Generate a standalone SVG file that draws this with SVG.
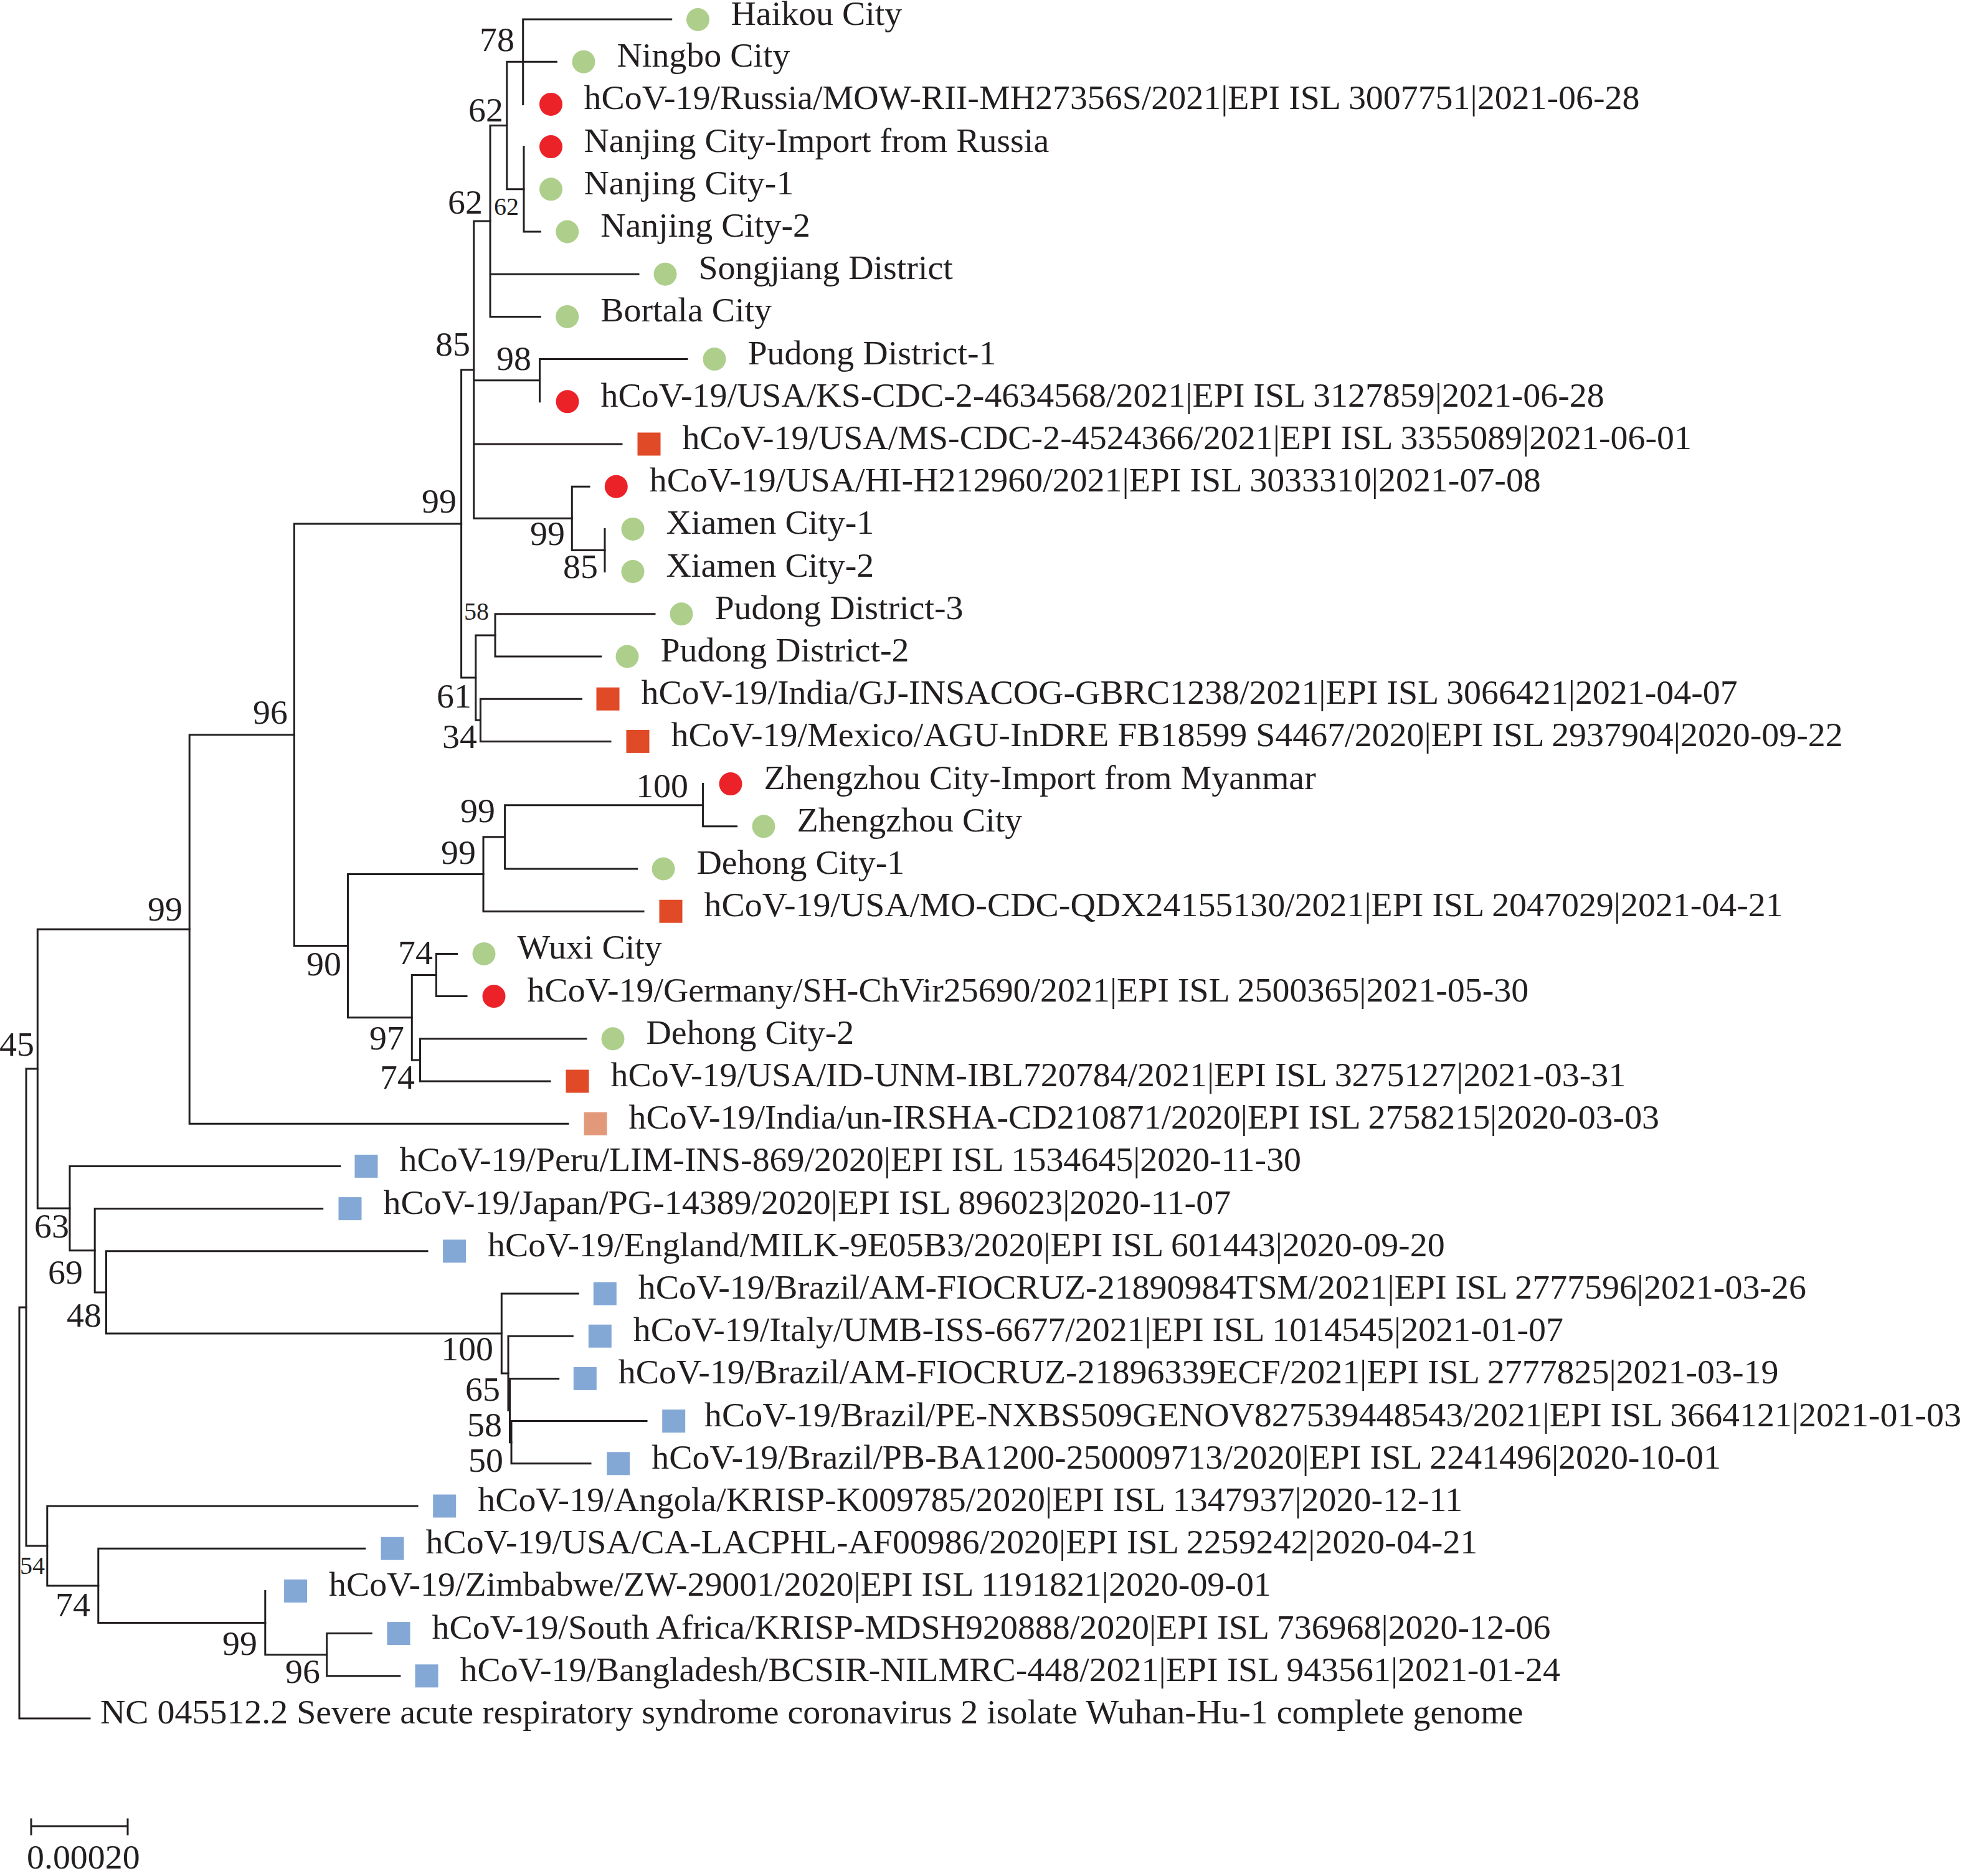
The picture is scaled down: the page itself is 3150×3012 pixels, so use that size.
<svg xmlns="http://www.w3.org/2000/svg" width="3150" height="3012" viewBox="0 0 3150 3012">
<style>
.e{fill:none;stroke:#231f20;stroke-width:3;stroke-linecap:square}
.t{font-family:"Liberation Serif","Times New Roman",serif;font-size:55.9px;fill:#231f20}
.b{font-family:"Liberation Serif","Times New Roman",serif;font-size:55.9px;fill:#231f20;text-anchor:end}
.s{font-size:40px}
.g{fill:#aecf8c}.r{fill:#ec2229}.o{fill:#e04a26}.p{fill:#e2997a}.u{fill:#84a8d6}
</style>
<rect width="3150" height="3012" fill="#ffffff"/>
<g id="connectors" class="e">
<path d="M31 2099V2759M31 2099H42M31 2759H144"/>
<path d="M42 1716V2482M42 1716H60.3M42 2482H75.8"/>
<path d="M60.3 1492V1940.1M60.3 1492H304.2M60.3 1940.1H112"/>
<path d="M304.2 1179.75V1804.2M304.2 1179.75H472.4M304.2 1804.2H912"/>
<path d="M472.4 840.9V1518.6M472.4 840.9H740.6M472.4 1518.6H558.5"/>
<path d="M740.6 593.65V1088.1M740.6 593.65H760.7M740.6 1088.1H763.8"/>
<path d="M760.7 354.95V832.35M760.7 354.95H787M760.7 610.7H866.5M760.7 713H998M760.7 832.35H918.3"/>
<path d="M787 201.5V508.4M787 201.5H813.8M787 440.2H1025M787 508.4H867.4"/>
<path d="M813.8 99.2V303.8M813.8 99.2H839.7M813.8 303.8H841"/>
<path d="M839.7 31V167.4M839.7 31H1077.7M839.7 99.2H893.3"/>
<path d="M841 235.6V372M841 372H867.4"/>
<path d="M866.5 576.6V644.8M866.5 576.6H1103"/>
<path d="M918.3 781.2V883.5M918.3 781.2H946M918.3 883.5H971"/>
<path d="M971 849.4V917.6"/>
<path d="M763.8 1019.9V1156.3M763.8 1019.9H795M763.8 1156.3H771.4"/>
<path d="M795 985.8V1054M795 985.8H1051M795 1054H964.7"/>
<path d="M771.4 1122.2V1190.4M771.4 1122.2H933.5M771.4 1190.4H980"/>
<path d="M558.5 1403.5V1633.7M558.5 1403.5H776M558.5 1633.7H661.3"/>
<path d="M776 1343.85V1463.2M776 1343.85H810.6M776 1463.2H1033"/>
<path d="M810.6 1292.7V1395M810.6 1292.7H1128.6M810.6 1395H1022.8"/>
<path d="M1128.6 1258.6V1326.8M1128.6 1326.8H1182.6"/>
<path d="M661.3 1565.5V1701.9M661.3 1565.5H700.4M661.3 1701.9H674.5"/>
<path d="M700.4 1531.4V1599.6M700.4 1531.4H733.5M700.4 1599.6H749"/>
<path d="M674.5 1667.8V1736M674.5 1667.8H941M674.5 1736H883"/>
<path d="M112 1872.4V2007.75M112 1872.4H545.8M112 2007.75H152.2"/>
<path d="M152.2 1940.6V2074.9M152.2 1940.6H517.7M152.2 2074.9H170.5"/>
<path d="M170.5 2008.8V2140.95M170.5 2008.8H686M170.5 2140.95H805.3"/>
<path d="M805.3 2077V2204.9M805.3 2077H928.3M805.3 2204.9H816"/>
<path d="M816 2145.2V2264.55M816 2145.2H919.3M816 2264.55H818.5"/>
<path d="M818.5 2213.4V2315.7M818.5 2213.4H896.7M818.5 2315.7H821"/>
<path d="M821 2281.6V2349.8M821 2281.6H1038M821 2349.8H948"/>
<path d="M75.8 2418V2545.9M75.8 2418H670M75.8 2545.9H157.8"/>
<path d="M157.8 2486.2V2605.55M157.8 2486.2H585.8M157.8 2605.55H425.8"/>
<path d="M425.8 2554.4V2656.7M425.8 2656.7H524.7"/>
<path d="M524.7 2622.6V2690.8M524.7 2622.6H596.3M524.7 2690.8H641.9"/>
</g>
<g id="support">
<text class="b" x="826" y="82">78</text>
<text class="b" x="808" y="195">62</text>
<text class="b" x="775" y="343">62</text>
<text class="t s" x="793" y="345">62</text>
<text class="b" x="755" y="571">85</text>
<text class="b" x="853" y="594">98</text>
<text class="b" x="733" y="823">99</text>
<text class="b" x="907" y="875">99</text>
<text class="b" x="960" y="928">85</text>
<text class="t s" x="745" y="995">58</text>
<text class="b" x="757" y="1136">61</text>
<text class="b" x="766" y="1201">34</text>
<text class="b" x="1105" y="1280">100</text>
<text class="b" x="795" y="1320">99</text>
<text class="b" x="764" y="1387">99</text>
<text class="b" x="462" y="1162">96</text>
<text class="b" x="293" y="1478">99</text>
<text class="b" x="548" y="1566">90</text>
<text class="b" x="695" y="1548">74</text>
<text class="b" x="649" y="1685">97</text>
<text class="b" x="666" y="1748">74</text>
<text class="b" x="55" y="1695">45</text>
<text class="b" x="111" y="1987">63</text>
<text class="b" x="133" y="2061">69</text>
<text class="b" x="163" y="2130">48</text>
<text class="b" x="792" y="2184">100</text>
<text class="b" x="803" y="2249">65</text>
<text class="b" x="806" y="2306">58</text>
<text class="b" x="808" y="2363">50</text>
<text class="t s" x="32" y="2527">54</text>
<text class="b" x="145" y="2595">74</text>
<text class="b" x="413" y="2657">99</text>
<text class="b" x="514" y="2702">96</text>
</g>
<g id="leaf0"><circle class="g" cx="1120.5" cy="31.5" r="18.5"/><text class="t" x="1173.5" y="40">Haikou City</text></g>
<g id="leaf1"><circle class="g" cx="937" cy="99.2" r="18.5"/><text class="t" x="990.5" y="107.2">Ningbo City</text></g>
<g id="leaf2"><circle class="r" cx="884.5" cy="167.4" r="18.5"/><text class="t" x="937.5" y="175.4">hCoV-19/Russia/MOW-RII-MH27356S/2021|EPI ISL 3007751|2021-06-28</text></g>
<g id="leaf3"><circle class="r" cx="884.5" cy="235.6" r="18.5"/><text class="t" x="937.5" y="243.6">Nanjing City-Import from Russia</text></g>
<g id="leaf4"><circle class="g" cx="884.5" cy="303.8" r="18.5"/><text class="t" x="937.5" y="311.8">Nanjing City-1</text></g>
<g id="leaf5"><circle class="g" cx="910.7" cy="372" r="18.5"/><text class="t" x="964.2" y="380">Nanjing City-2</text></g>
<g id="leaf6"><circle class="g" cx="1068" cy="440.2" r="18.5"/><text class="t" x="1121.5" y="448.2">Songjiang District</text></g>
<g id="leaf7"><circle class="g" cx="910.7" cy="508.4" r="18.5"/><text class="t" x="964.2" y="516.4">Bortala City</text></g>
<g id="leaf8"><circle class="g" cx="1147" cy="576.6" r="18.5"/><text class="t" x="1200.5" y="584.6">Pudong District-1</text></g>
<g id="leaf9"><circle class="r" cx="911" cy="644.8" r="18.5"/><text class="t" x="964.5" y="652.8">hCoV-19/USA/KS-CDC-2-4634568/2021|EPI ISL 3127859|2021-06-28</text></g>
<g id="leaf10"><rect class="o" x="1023.5" y="694.5" width="37" height="37"/><text class="t" x="1095.5" y="721">hCoV-19/USA/MS-CDC-2-4524366/2021|EPI ISL 3355089|2021-06-01</text></g>
<g id="leaf11"><circle class="r" cx="989.3" cy="781.2" r="18.5"/><text class="t" x="1042.8" y="789.2">hCoV-19/USA/HI-H212960/2021|EPI ISL 3033310|2021-07-08</text></g>
<g id="leaf12"><circle class="g" cx="1016" cy="849.4" r="18.5"/><text class="t" x="1069.5" y="857.4">Xiamen City-1</text></g>
<g id="leaf13"><circle class="g" cx="1016" cy="917.6" r="18.5"/><text class="t" x="1069.5" y="925.6">Xiamen City-2</text></g>
<g id="leaf14"><circle class="g" cx="1094" cy="985.8" r="18.5"/><text class="t" x="1147.5" y="993.8">Pudong District-3</text></g>
<g id="leaf15"><circle class="g" cx="1007" cy="1054" r="18.5"/><text class="t" x="1060.5" y="1062">Pudong District-2</text></g>
<g id="leaf16"><rect class="o" x="957.5" y="1103.7" width="37" height="37"/><text class="t" x="1029.5" y="1130.2">hCoV-19/India/GJ-INSACOG-GBRC1238/2021|EPI ISL 3066421|2021-04-07</text></g>
<g id="leaf17"><rect class="o" x="1005.5" y="1171.9" width="37" height="37"/><text class="t" x="1077.5" y="1198.4">hCoV-19/Mexico/AGU-InDRE FB18599 S4467/2020|EPI ISL 2937904|2020-09-22</text></g>
<g id="leaf18"><circle class="r" cx="1173" cy="1258.6" r="18.5"/><text class="t" x="1226.5" y="1266.6">Zhengzhou City-Import from Myanmar</text></g>
<g id="leaf19"><circle class="g" cx="1226" cy="1326.8" r="18.5"/><text class="t" x="1279.5" y="1334.8">Zhengzhou City</text></g>
<g id="leaf20"><circle class="g" cx="1065" cy="1395" r="18.5"/><text class="t" x="1118.5" y="1403">Dehong City-1</text></g>
<g id="leaf21"><rect class="o" x="1058.5" y="1444.7" width="37" height="37"/><text class="t" x="1130.5" y="1471.2">hCoV-19/USA/MO-CDC-QDX24155130/2021|EPI ISL 2047029|2021-04-21</text></g>
<g id="leaf22"><circle class="g" cx="777" cy="1531.4" r="18.5"/><text class="t" x="830.5" y="1539.4">Wuxi City</text></g>
<g id="leaf23"><circle class="r" cx="793" cy="1599.6" r="18.5"/><text class="t" x="846.5" y="1607.6">hCoV-19/Germany/SH-ChVir25690/2021|EPI ISL 2500365|2021-05-30</text></g>
<g id="leaf24"><circle class="g" cx="984" cy="1667.8" r="18.5"/><text class="t" x="1037.5" y="1675.8">Dehong City-2</text></g>
<g id="leaf25"><rect class="o" x="908.5" y="1717.5" width="37" height="37"/><text class="t" x="980.5" y="1744">hCoV-19/USA/ID-UNM-IBL720784/2021|EPI ISL 3275127|2021-03-31</text></g>
<g id="leaf26"><rect class="p" x="937.5" y="1785.7" width="37" height="37"/><text class="t" x="1009.5" y="1812.2">hCoV-19/India/un-IRSHA-CD210871/2020|EPI ISL 2758215|2020-03-03</text></g>
<g id="leaf27"><rect class="u" x="569.5" y="1853.9" width="37" height="37"/><text class="t" x="641.5" y="1880.4">hCoV-19/Peru/LIM-INS-869/2020|EPI ISL 1534645|2020-11-30</text></g>
<g id="leaf28"><rect class="u" x="543.5" y="1922.1" width="37" height="37"/><text class="t" x="615.5" y="1948.6">hCoV-19/Japan/PG-14389/2020|EPI ISL 896023|2020-11-07</text></g>
<g id="leaf29"><rect class="u" x="711.1" y="1990.3" width="37" height="37"/><text class="t" x="783.1" y="2016.8">hCoV-19/England/MILK-9E05B3/2020|EPI ISL 601443|2020-09-20</text></g>
<g id="leaf30"><rect class="u" x="952.8" y="2058.5" width="37" height="37"/><text class="t" x="1024.8" y="2085">hCoV-19/Brazil/AM-FIOCRUZ-21890984TSM/2021|EPI ISL 2777596|2021-03-26</text></g>
<g id="leaf31"><rect class="u" x="944.8" y="2126.7" width="37" height="37"/><text class="t" x="1016.8" y="2153.2">hCoV-19/Italy/UMB-ISS-6677/2021|EPI ISL 1014545|2021-01-07</text></g>
<g id="leaf32"><rect class="u" x="920.8" y="2194.9" width="37" height="37"/><text class="t" x="992.8" y="2221.4">hCoV-19/Brazil/AM-FIOCRUZ-21896339ECF/2021|EPI ISL 2777825|2021-03-19</text></g>
<g id="leaf33"><rect class="u" x="1063.2" y="2263.1" width="37" height="37"/><text class="t" x="1131" y="2289.6">hCoV-19/Brazil/PE-NXBS509GENOV827539448543/2021|EPI ISL 3664121|2021-01-03</text></g>
<g id="leaf34"><rect class="u" x="974.2" y="2331.3" width="37" height="37"/><text class="t" x="1046.2" y="2357.8">hCoV-19/Brazil/PB-BA1200-250009713/2020|EPI ISL 2241496|2020-10-01</text></g>
<g id="leaf35"><rect class="u" x="695.2" y="2399.5" width="37" height="37"/><text class="t" x="767.2" y="2426">hCoV-19/Angola/KRISP-K009785/2020|EPI ISL 1347937|2020-12-11</text></g>
<g id="leaf36"><rect class="u" x="611.5" y="2467.7" width="37" height="37"/><text class="t" x="683.5" y="2494.2">hCoV-19/USA/CA-LACPHL-AF00986/2020|EPI ISL 2259242|2020-04-21</text></g>
<g id="leaf37"><rect class="u" x="456.1" y="2535.9" width="37" height="37"/><text class="t" x="528.1" y="2562.4">hCoV-19/Zimbabwe/ZW-29001/2020|EPI ISL 1191821|2020-09-01</text></g>
<g id="leaf38"><rect class="u" x="621.5" y="2604.1" width="37" height="37"/><text class="t" x="693.5" y="2630.6">hCoV-19/South Africa/KRISP-MDSH920888/2020|EPI ISL 736968|2020-12-06</text></g>
<g id="leaf39"><rect class="u" x="666.5" y="2672.3" width="37" height="37"/><text class="t" x="738.5" y="2698.8">hCoV-19/Bangladesh/BCSIR-NILMRC-448/2021|EPI ISL 943561|2021-01-24</text></g>
<g id="leaf40"><text class="t" x="161" y="2767">NC 045512.2 Severe acute respiratory syndrome coronavirus 2 isolate Wuhan-Hu-1 complete genome</text></g>
<g id="scalebar">
<path class="e" d="M50 2932H205M50 2921V2945M205 2921V2945"/>
<text class="t" x="43" y="3000">0.00020</text>
</g>
</svg>
